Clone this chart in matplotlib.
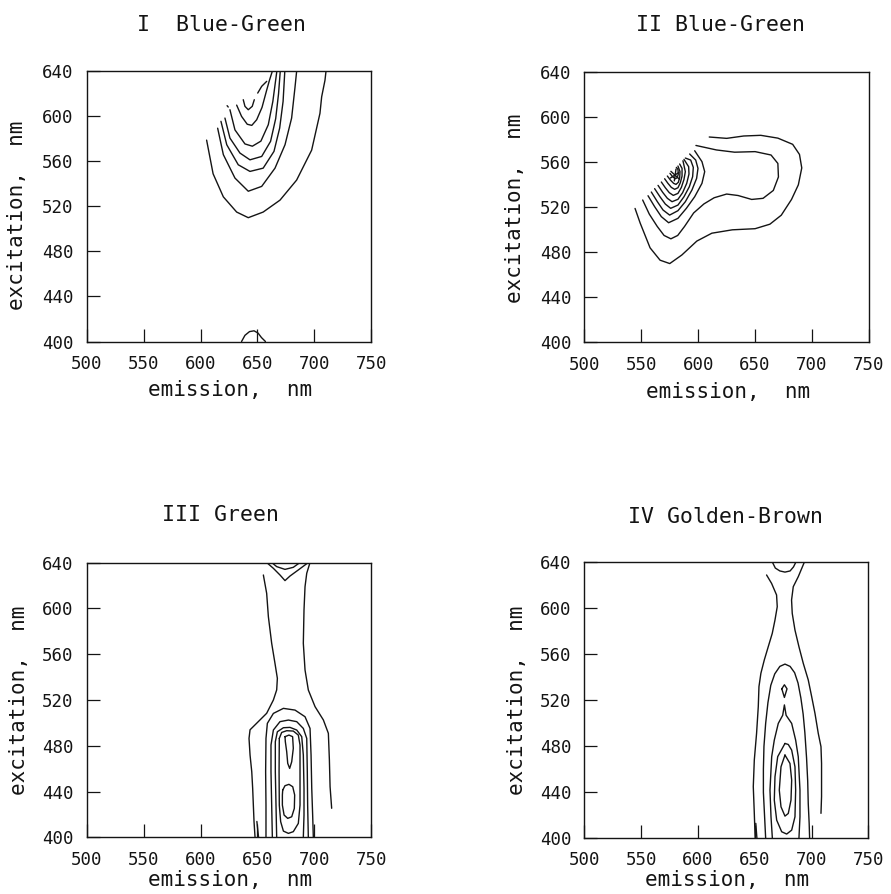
import matplotlib
matplotlib.use("Agg")
import matplotlib.pyplot as plt

# ---------------- data: contour lines (emission nm, excitation nm)
EM_TICKS = [500, 550, 600, 650, 700, 750]
EX_TICKS = [400, 440, 480, 520, 560, 600, 640]

TITLES = ["I  Blue-Green", "II Blue-Green", "III Green", "IV Golden-Brown"]
XLABEL = "emission,  nm"
YLABEL = "excitation,  nm"

# Panel I  (Blue-Green)
P1_C1 = [(605.3, 578.9), (611.0, 549.0), (620.0, 528.5), (631.7, 515.0), (641.9, 510.0), (655.0, 515.0),
         (669.8, 525.6), (684.4, 543.4), (697.6, 570.0), (704.9, 602.7), (706.4, 617.4), (709.3, 632.0),
         (710.2, 640.0)]
P1_C2 = [(615.0, 589.5), (620.0, 566.0), (630.2, 545.2), (641.9, 533.5), (653.7, 537.8), (665.4, 554.0),
         (674.2, 574.8), (680.0, 598.5), (682.9, 625.2), (684.4, 640.0)]
P1_C3 = [(617.9, 595.6), (623.0, 574.8), (633.1, 557.0), (643.4, 551.1), (655.0, 554.0), (664.5, 568.9),
         (669.5, 589.6), (672.5, 613.3), (674.0, 640.0)]
P1_C4 = [(621.4, 598.5), (625.8, 580.7), (634.6, 567.4), (643.4, 561.4), (653.7, 564.4), (661.5, 577.8),
         (666.0, 598.0), (668.5, 620.0), (670.0, 640.0)]
P1_C5 = [(625.8, 605.9), (630.2, 588.0), (639.0, 575.5), (645.5, 573.5), (653.0, 578.0), (659.5, 592.6),
         (663.5, 613.3), (667.0, 640.0)]
P1_C6 = [(631.7, 610.0), (636.0, 600.0), (641.0, 593.0), (645.0, 592.0), (649.3, 597.0), (654.0, 608.0),
         (658.0, 623.0), (660.5, 632.0), (663.0, 640.0)]
P1_C7 = [(637.5, 614.8), (639.0, 608.9), (641.9, 605.9), (645.4, 608.9), (647.2, 614.8)]
P1_C8 = [(650.2, 620.7), (653.7, 626.7), (658.1, 631.1)]
P1_DOT = [(623.3, 609.5), (624.3, 608.3)]
P1_BUMP = [(636.0, 400.0), (639.0, 405.5), (643.0, 408.8), (647.0, 409.5), (650.5, 407.5), (653.5, 403.5),
           (657.0, 400.0)]

# Panel II  (Blue-Green)
P2_A = [(544.5, 519.0), (549.0, 506.0), (557.7, 484.0), (566.5, 473.0), (575.0, 470.0), (585.6, 477.6),
        (598.8, 490.0), (612.0, 497.0), (630.0, 500.0), (650.0, 501.0), (663.0, 505.0), (673.0, 513.0),
        (682.0, 527.0), (688.0, 540.0), (691.0, 555.0), (689.0, 567.0), (683.0, 576.0), (670.0, 581.5),
        (655.0, 584.0), (640.0, 583.4), (625.0, 581.3), (609.7, 582.5)]
P2_B = [(551.2, 526.5), (557.0, 514.0), (564.0, 503.0), (570.0, 495.0), (576.0, 492.0), (582.0, 495.0),
        (588.0, 503.0), (596.0, 515.0), (605.0, 523.0), (614.0, 528.5), (625.0, 531.8), (635.0, 530.5),
        (647.0, 527.0), (657.0, 528.0), (666.0, 535.0), (670.5, 547.0), (670.0, 559.0), (664.0, 566.5),
        (650.0, 569.5), (632.0, 569.0), (616.0, 571.0), (598.0, 575.0)]
P2_C3 = [(555.9, 530.3), (561.7, 520.6), (567.6, 511.7), (574.0, 506.3), (582.2, 510.2), (589.6, 519.1),
         (596.9, 529.4), (603.3, 541.3), (605.7, 551.7), (603.3, 560.6), (596.9, 570.3)]
P2_C4 = [(558.8, 533.6), (564.1, 525.0), (569.1, 517.6), (574.9, 513.1), (582.2, 517.0), (588.7, 525.0),
         (594.5, 535.4), (598.6, 545.7), (599.8, 554.6), (597.8, 562.0), (592.5, 567.4)]
P2_C5 = [(561.7, 536.6), (566.4, 529.4), (571.1, 522.9), (575.8, 519.1), (582.2, 522.0), (587.5, 529.4),
         (592.2, 538.3), (595.1, 547.2), (595.7, 555.5), (593.4, 562.0), (588.7, 563.8)]
P2_C6 = [(564.7, 539.5), (568.8, 533.3), (572.9, 528.0), (577.0, 525.0), (582.2, 527.1), (586.3, 533.0),
         (589.9, 541.3), (591.9, 549.6), (591.6, 556.1), (587.5, 562.6)]
P2_C7 = [(567.6, 542.5), (571.1, 537.4), (574.6, 533.0), (578.1, 530.6), (582.2, 532.4), (585.2, 537.7),
         (587.5, 544.8), (588.7, 551.7), (586.6, 561.4)]
P2_C8 = [(570.5, 545.4), (573.4, 541.3), (576.4, 537.7), (579.3, 536.0), (582.2, 537.4), (584.3, 541.9),
         (585.8, 547.8), (585.8, 554.6), (583.7, 558.5)]
P2_C9 = [(572.9, 547.8), (575.5, 544.3), (578.4, 541.3), (580.5, 540.4), (582.5, 542.2), (583.7, 546.3),
         (584.0, 551.7), (582.2, 556.7)]
P2_C10 = [(575.2, 550.2), (577.5, 547.2), (579.9, 545.4), (581.6, 546.3), (582.5, 549.6), (582.2, 553.7),
          (580.8, 555.5)]
P2_STAR1 = [(575.5, 546.0), (583.0, 551.0)]
P2_STAR2 = [(579.0, 543.5), (580.5, 554.0)]
P2_STAR3 = [(576.0, 552.0), (583.5, 545.0)]

# Panel III  (Green)
P3_L1 = [(655.2, 629.1), (658.1, 613.1), (659.6, 592.7), (662.5, 569.5), (665.4, 552.0), (667.5, 538.9),
         (666.9, 528.8), (664.0, 520.0), (658.1, 508.4), (649.3, 499.7), (643.5, 494.0), (642.6, 486.5),
         (643.5, 472.0), (645.0, 457.4), (645.8, 442.9), (646.4, 428.3), (647.0, 413.8), (647.9, 400.0)]
P3_R1 = [(696.2, 640.0), (693.3, 630.6), (691.8, 618.9), (690.9, 598.6), (690.3, 569.5), (691.8, 546.2),
         (694.7, 528.7), (700.6, 514.2), (707.9, 502.6), (712.3, 490.9), (713.2, 467.7), (713.8, 444.4),
         (715.2, 425.5)]
P3_TOPV = [(658.1, 640.0), (664.0, 634.9), (669.8, 629.1), (674.2, 624.2), (678.6, 628.2), (685.9, 633.5),
           (694.7, 640.0)]
P3_TOPU = [(662.5, 640.0), (666.9, 636.4), (674.2, 634.0), (681.5, 635.8), (687.4, 640.0)]
P3_M2 = [(657.5, 400.0), (657.5, 428.3), (657.2, 457.4), (657.5, 486.5), (658.7, 499.6), (664.0, 508.3),
         (672.8, 512.7), (683.0, 511.2), (691.8, 505.4), (696.2, 495.2), (697.1, 472.0), (697.7, 442.9),
         (698.5, 419.6), (699.1, 400.0)]
P3_M3 = [(663.1, 400.0), (662.5, 428.3), (661.9, 457.4), (661.9, 480.7), (664.0, 493.8), (669.8, 501.1),
         (677.2, 502.5), (684.5, 501.1), (690.3, 495.2), (693.3, 486.5), (693.8, 457.4), (694.1, 428.3),
         (694.7, 400.0)]
P3_M4 = [(666.9, 400.0), (666.3, 428.3), (665.7, 457.4), (665.7, 483.6), (667.5, 492.3), (672.8, 495.8),
         (678.6, 496.1), (684.5, 493.8), (688.9, 488.0), (690.3, 472.0), (690.9, 442.9), (690.9, 419.6),
         (690.3, 400.0)]
P3_M5 = [(669.2, 486.5), (671.3, 491.7), (675.7, 493.2), (681.5, 492.9), (685.9, 489.4), (687.4, 480.7),
         (687.4, 457.4), (687.4, 428.3), (685.9, 412.3), (681.5, 405.1), (677.2, 403.6), (672.8, 405.6),
         (670.4, 413.8), (669.2, 428.3), (669.0, 457.4), (669.2, 486.5)]
P3_PEAK1 = [(674.2, 488.0), (677.7, 489.4), (680.9, 488.0), (681.5, 477.8), (680.1, 466.1), (678.3, 460.3),
            (676.6, 464.7), (675.7, 474.9), (674.5, 483.6), (674.2, 488.0)]
P3_PEAK2 = [(672.2, 441.4), (674.2, 445.2), (677.7, 446.4), (681.0, 444.3), (682.7, 437.1), (682.4, 425.4),
            (680.1, 418.1), (676.6, 416.7), (673.4, 419.6), (671.9, 428.3), (671.9, 437.1), (672.2, 441.4)]
P3_STROKE = [(649.5, 414.0), (651.0, 400.0)]

# Panel IV  (Golden-Brown)
P4_L1 = [(660.3, 629.0), (664.7, 621.7), (669.1, 611.6), (669.7, 601.4), (667.7, 589.8), (665.3, 578.2),
         (661.8, 566.7), (658.3, 555.1), (655.3, 543.5), (653.6, 531.9), (653.0, 514.5), (651.5, 491.3),
         (649.5, 468.1), (648.6, 444.9), (649.5, 421.7), (650.1, 404.3), (650.3, 400.0)]
P4_R1 = [(693.5, 640.0), (688.2, 627.5), (683.8, 618.8), (682.3, 607.2), (682.9, 595.6), (685.3, 581.1),
         (688.8, 566.6), (692.6, 552.2), (697.0, 537.7), (700.0, 523.2), (702.9, 508.7), (705.8, 491.3),
         (708.2, 479.7), (708.7, 465.2), (708.7, 450.7), (708.7, 436.2), (708.2, 421.7)]
P4_TOPU = [(665.5, 640.0), (668.0, 635.0), (672.0, 632.5), (676.5, 631.5), (681.0, 632.5), (684.0, 636.0),
           (686.0, 640.0)]
P4_M2 = [(659.5, 400.0), (658.5, 420.0), (657.5, 440.0), (657.5, 460.0), (658.0, 480.0), (659.5, 500.0),
         (661.5, 518.0), (664.0, 533.0), (667.5, 543.0), (672.0, 549.5), (676.5, 551.5), (681.0, 549.5),
         (685.0, 544.0), (688.0, 535.0), (690.5, 522.0), (692.5, 508.0), (694.0, 492.0), (695.5, 470.0),
         (696.5, 450.0), (697.0, 430.0), (697.8, 413.0), (698.2, 400.0)]
P4_M3 = [(665.4, 400.0), (664.2, 418.7), (663.3, 441.9), (664.8, 470.9), (667.1, 485.4), (670.6, 499.9),
         (674.5, 507.0), (676.0, 516.0), (677.5, 507.0), (682.4, 499.9), (685.9, 485.4), (688.2, 470.9),
         (689.7, 441.9), (689.7, 418.7), (688.8, 400.0)]
P4_M4 = [(676.5, 482.5), (670.1, 471.0), (667.7, 453.5), (667.1, 433.2), (669.2, 415.8), (673.6, 405.7),
         (678.0, 403.7), (682.4, 407.1), (685.3, 418.7), (685.9, 441.9), (685.3, 462.2), (682.4, 476.7),
         (679.4, 481.6), (676.5, 482.5)]
P4_M5 = [(676.5, 472.4), (673.0, 462.2), (671.5, 441.9), (673.0, 427.4), (676.5, 419.3), (679.4, 421.6),
         (681.8, 433.2), (682.4, 450.6), (680.9, 465.1), (676.5, 472.4)]
P4_DIAMOND = [(673.7, 530.0), (676.0, 533.5), (678.3, 530.0), (676.0, 522.5), (673.7, 530.0)]
P4_STROKE = [(650.8, 413.0), (651.8, 400.0)]

PANEL_LINES = [
    [P1_C1, P1_C2, P1_C3, P1_C4, P1_C5, P1_C6, P1_C7, P1_C8, P1_DOT, P1_BUMP],
    [P2_A, P2_B, P2_C3, P2_C4, P2_C5, P2_C6, P2_C7, P2_C8, P2_C9, P2_C10, P2_STAR1, P2_STAR2, P2_STAR3],
    [P3_L1, P3_R1, P3_TOPV, P3_TOPU, P3_M2, P3_M3, P3_M4, P3_M5, P3_PEAK1, P3_PEAK2, P3_STROKE],
    [P4_L1, P4_R1, P4_TOPU, P4_M2, P4_M3, P4_M4, P4_M5, P4_DIAMOND, P4_STROKE],
]

# ---------------- layout (figure fractions) and label placement (axes fractions)
AX_RECTS = [
    [0.0974, 0.6180, 0.3193, 0.3022],
    [0.6559, 0.6171, 0.3193, 0.3020],
    [0.0973, 0.0632, 0.3194, 0.3076],
    [0.6560, 0.0623, 0.3187, 0.3087],
]
TITLE_POS = [(0.475, 1.172), (0.479, 1.175), (0.471, 1.173), (0.4975, 1.165)]
XLABEL_POS = [(0.503, -0.180), (0.506, -0.183), (0.503, -0.1545), (0.503, -0.151)]
YLABEL_POS = [(-0.246, 0.468), (-0.244, 0.497), (-0.238, 0.500), (-0.239, 0.500)]

FONT = "DejaVu Sans Mono"
INK = "#141414"

fig = plt.figure(figsize=(8.91, 8.94), dpi=100)
fig.patch.set_facecolor("white")

for i in range(4):
    ax = fig.add_axes(AX_RECTS[i])
    for line in PANEL_LINES[i]:
        em = [p[0] for p in line]
        ex = [p[1] for p in line]
        ax.plot(em, ex, color=INK, lw=1.0, solid_joinstyle="round", solid_capstyle="round")
    ax.set_xlim(EM_TICKS[0], EM_TICKS[-1])
    ax.set_ylim(EX_TICKS[0], EX_TICKS[-1])
    ax.set_xticks(EM_TICKS)
    ax.set_yticks(EX_TICKS)
    ax.set_xticklabels([str(v) for v in EM_TICKS], family=FONT, fontsize=12.5, color=INK)
    ax.set_yticklabels([str(v) for v in EX_TICKS], family=FONT, fontsize=12.5, color=INK)
    ax.tick_params(direction="in", length=9.5, width=0.9, color=INK, pad=9.5)
    for sp in ax.spines.values():
        sp.set_linewidth(1.0)
        sp.set_color(INK)
    ax.set_title(TITLES[i], family=FONT, fontsize=15.5, color=INK, pad=0,
                 x=TITLE_POS[i][0], y=TITLE_POS[i][1], va="center", ha="center")
    ax.set_xlabel(XLABEL, family=FONT, fontsize=15, color=INK, va="center")
    ax.xaxis.set_label_coords(*XLABEL_POS[i])
    ax.set_ylabel(YLABEL, family=FONT, fontsize=15, color=INK, va="center")
    ax.yaxis.set_label_coords(*YLABEL_POS[i])

fig.savefig("out.png", dpi=100, facecolor="white")
